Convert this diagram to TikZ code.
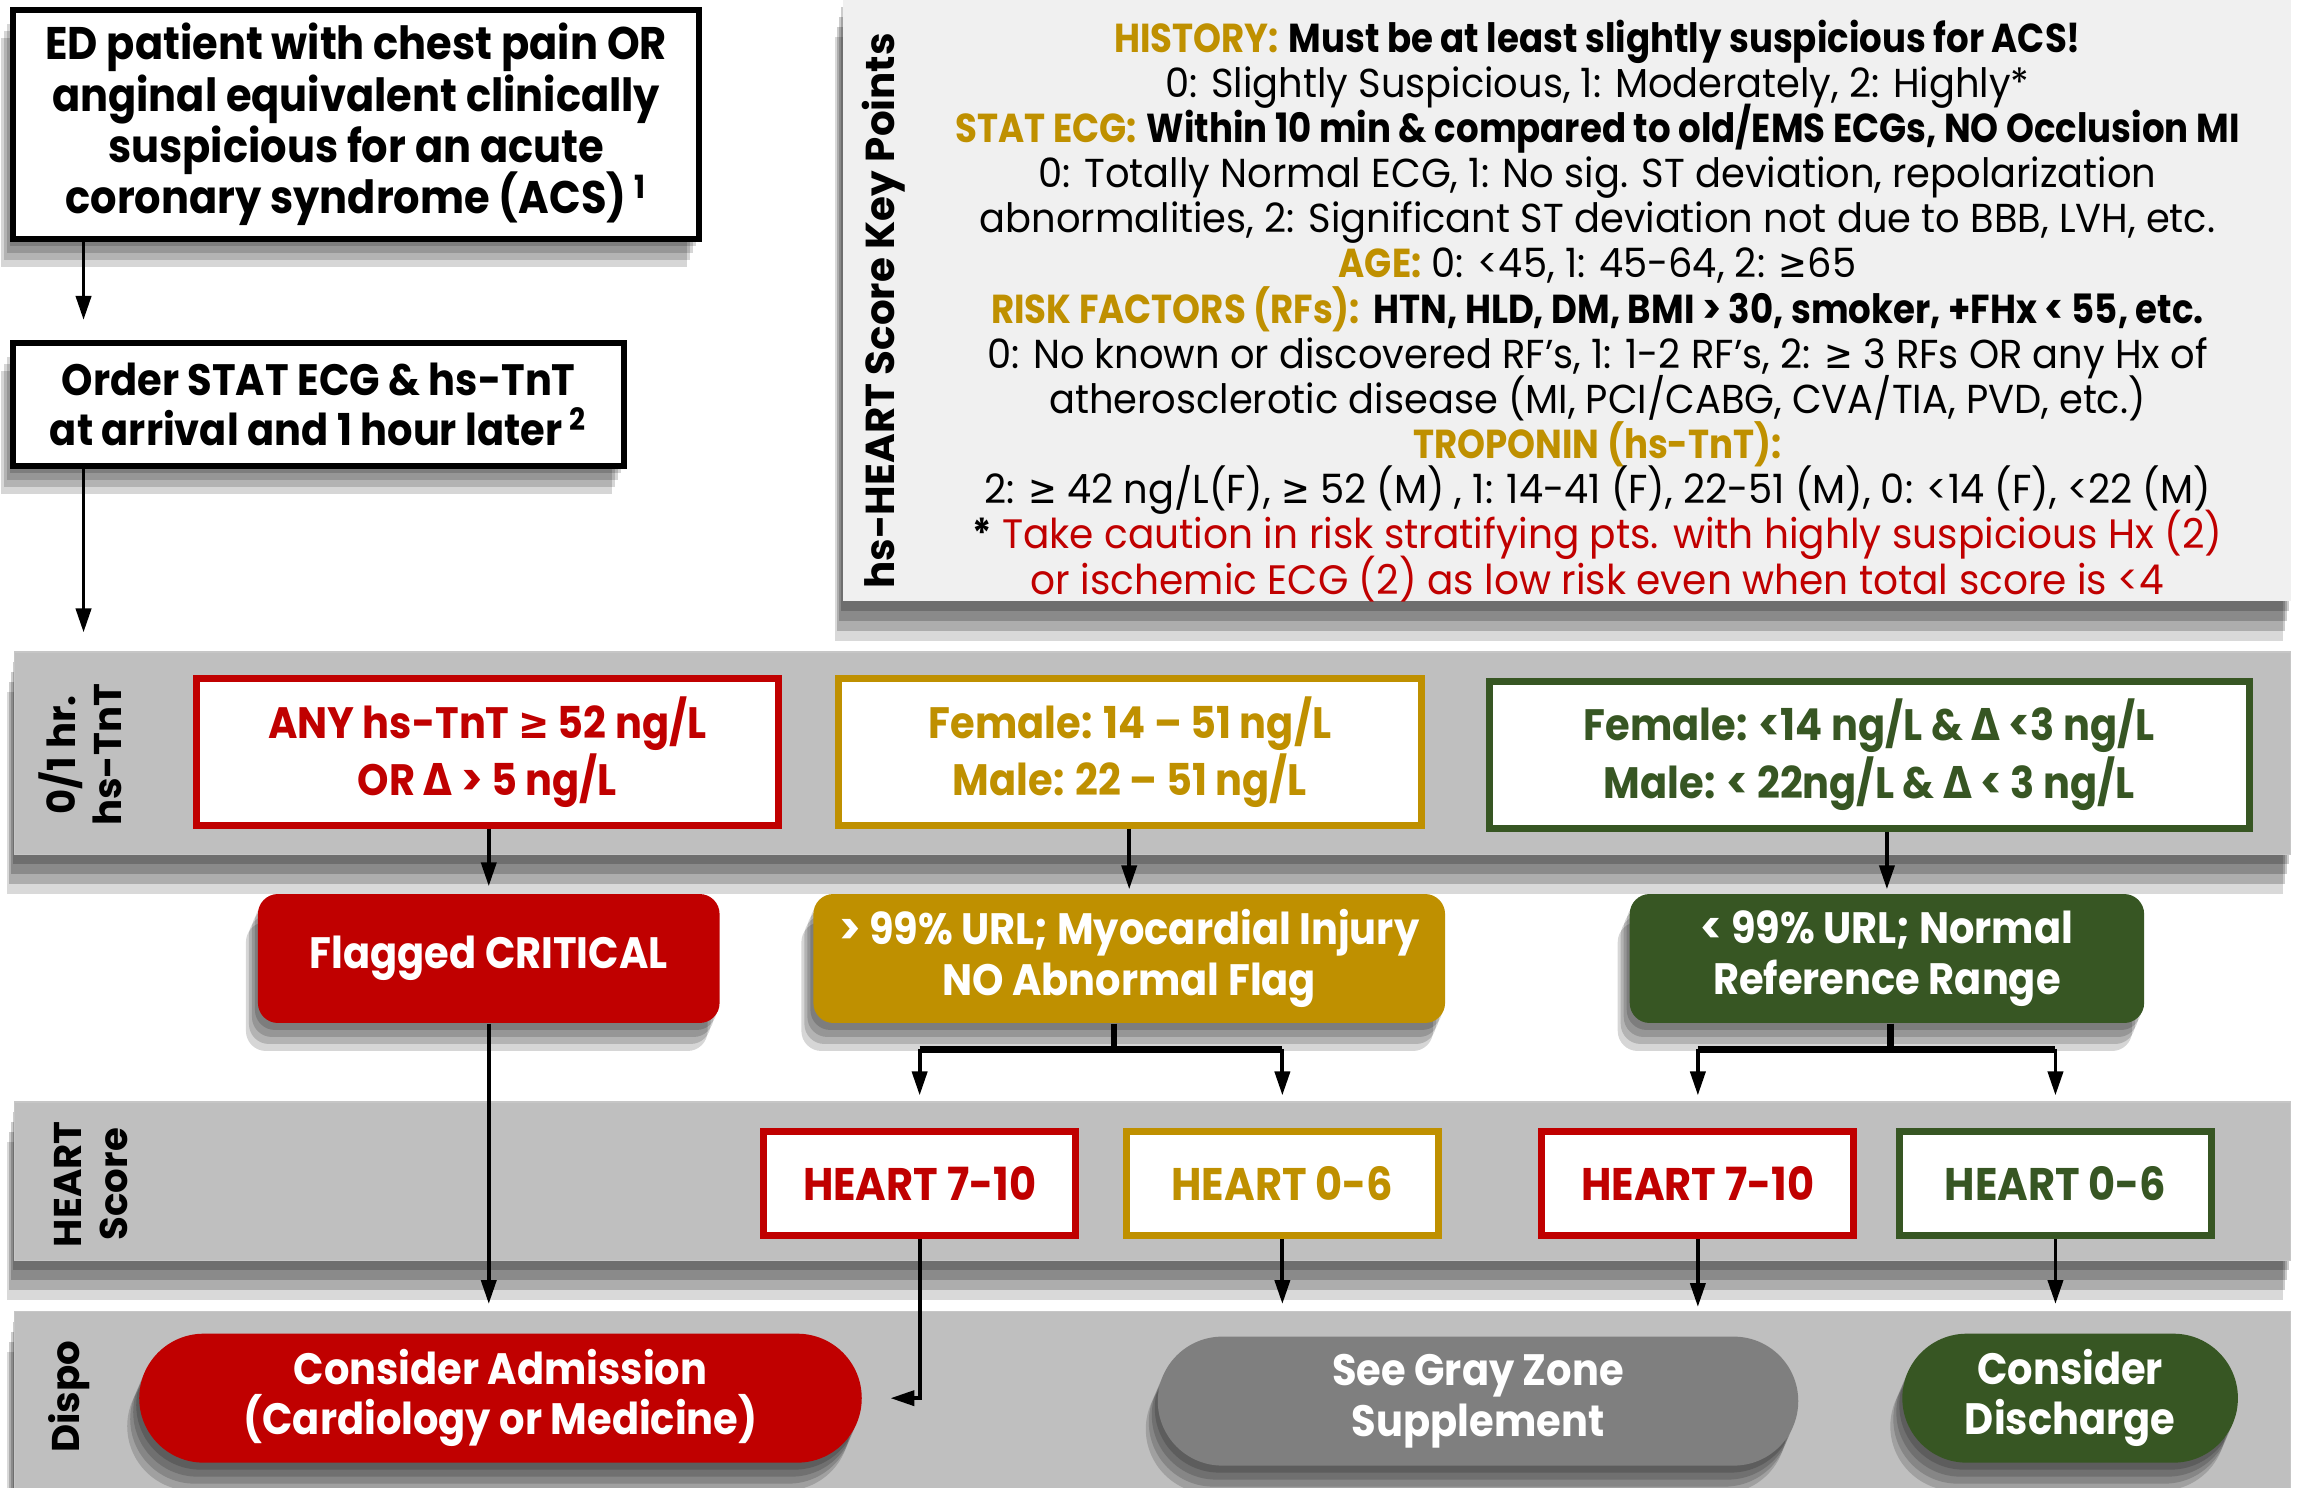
\documentclass[tikz,border=0pt]{standalone}
\usepackage{fontspec}
\setmainfont{Poppins}[FakeStretch=0.91]
\newfontfamily\keyfont{Poppins}[FakeStretch=0.95, BoldFeatures={FakeStretch=0.88}]
\newfontfamily\lanefont{Poppins}
\newfontfamily\symsans{DejaVu Sans}[FakeStretch=0.85]
\usetikzlibrary{arrows.meta,shadows,shapes.misc}
\definecolor{tntred}{HTML}{C00000}
\definecolor{tntgold}{HTML}{BF9000}
\definecolor{tntgreen}{HTML}{375623}
\definecolor{lanegray}{HTML}{BFBFBF}
\definecolor{panelgray}{HTML}{F0F0F0}
\definecolor{zonegray}{HTML}{7F7F7F}
\newcommand{\dpx}{0.14656mm}
\newcommand{\gesym}{{\symsans ≥}}
\newcommand{\dsym}{{\symsans Δ}}
\setlength{\lineskiplimit}{-\maxdimen}

\begin{document}
\begin{tikzpicture}[x=\dpx, y=-\dpx,
    every node/.style={font=\fontsize{12.5}{14.3}\selectfont\bfseries},
    shade/.style={
        drop shadow={shadow xshift=-0.3mm, shadow yshift=-0.7mm, fill=black, opacity=0.16},
        drop shadow={shadow xshift=-0.6mm, shadow yshift=-1.4mm, fill=black, opacity=0.16},
        drop shadow={shadow xshift=-0.9mm, shadow yshift=-2.1mm, fill=black, opacity=0.16},
        drop shadow={shadow xshift=-1.2mm, shadow yshift=-2.8mm, fill=black, opacity=0.16}},
    laneshade/.style={
        drop shadow={shadow xshift=-0.2mm, shadow yshift=-1mm, fill=black, opacity=0.2},
        drop shadow={shadow xshift=-0.4mm, shadow yshift=-2mm, fill=black, opacity=0.2},
        drop shadow={shadow xshift=-0.6mm, shadow yshift=-3mm, fill=black, opacity=0.2},
        drop shadow={shadow xshift=-0.8mm, shadow yshift=-4mm, fill=black, opacity=0.15}},
    frame/.style={draw=black, line width=1.7pt, fill=white, align=center, inner sep=0pt, shade},
    tntbox/.style={draw=#1, text=#1, line width=2pt, fill=white, align=center, inner sep=0pt,
        minimum height=100*\dpx, font=\fontsize{12.5}{16.3}\selectfont\bfseries},
    flagbox/.style={fill=#1, text=white, rounded corners=2mm, align=center, inner sep=0pt,
        minimum height=88*\dpx, shade},
    heartbox/.style={draw=#1, text=#1, line width=2pt, fill=white, inner sep=0pt,
        minimum width=213*\dpx, minimum height=71*\dpx, font=\fontsize{13}{15}\selectfont\bfseries},
    pill/.style={rounded rectangle, fill=#1, text=white, align=center, inner sep=0pt,
        minimum height=88*\dpx, shade},
    lane/.style={fill=lanegray, draw=gray!45, line width=0.4pt, minimum width=1553*\dpx, inner sep=0pt,
        laneshade},
    lanelabel/.style={rotate=90, align=center, font=\lanefont\fontsize{11}{13}\selectfont\bfseries},
    arr/.style={line width=1.1pt, -{Triangle[length=2.4mm, width=1.5mm]}},
    fork/.style={line width=1.8pt}]
    \fill[white] (0,0) rectangle (1568,1015);
    \useasboundingbox (0,0) rectangle (1568,1015);

    % Key points panel
    \node[fill=panelgray, minimum width=988*\dpx, minimum height=412*\dpx, inner sep=0pt, laneshade]
        (keypanel) at (1069,204) {};
    \node[lanelabel, font=\lanefont\fontsize{11.5}{13}\selectfont\bfseries] (keylabel) at (603,212)
        {hs-HEART Score Key Points};
    \node[font=\keyfont\fontsize{11.5}{12.85}\selectfont\mdseries, align=center] (keytext) at (1090,212) {%
        {\color{tntgold}\bfseries HISTORY:} {\bfseries Must be at least slightly suspicious for ACS!}\\
        0: Slightly Suspicious, 1: Moderately, 2: Highly*\\
        {\color{tntgold}\bfseries STAT ECG:} {\bfseries Within 10 min \& compared to old/EMS ECGs, NO Occlusion MI}\\
        0: Totally Normal ECG, 1: No sig. ST deviation, repolarization\\
        abnormalities, 2: Significant ST deviation not due to BBB, LVH, etc.\\
        {\color{tntgold}\bfseries AGE:} 0: <45, 1: 45-64, 2: \gesym65\\
        {\color{tntgold}\bfseries RISK FACTORS (RFs):} {\bfseries HTN, HLD, DM, BMI > 30, smoker, +FHx < 55, etc.}\\
        0: No known or discovered RF’s, 1: 1-2 RF’s, 2: \gesym\ 3 RFs OR any Hx of\\
        atherosclerotic disease (MI, PCI/CABG, CVA/TIA, PVD, etc.)\\
        {\color{tntgold}\bfseries TROPONIN (hs-TnT):}\\
        2: \gesym\ 42 ng/L(F), \gesym\ 52 (M) , 1: 14-41 (F), 22-51 (M), 0: <14 (F), <22 (M)\\
        {\fontsize{11.7}{12.85}\selectfont{\bfseries *} {\color{tntred}Take caution in risk stratifying pts. with highly suspicious Hx (2)}}\\
        {\fontsize{11.7}{12.85}\selectfont\color{tntred}or ischemic ECG (2) as low risk even when total score is <4}};

    % Entry boxes
    \node[frame, minimum width=468*\dpx, minimum height=156*\dpx, font=\fontsize{13}{14.6}\selectfont\bfseries]
        (ed) at (243,85)
        {ED patient with chest pain OR\\ anginal equivalent clinically\\ suspicious for an acute\\
         coronary syndrome (ACS)\,\textsuperscript{1}};
    \node[frame, minimum width=417*\dpx, minimum height=84*\dpx] (order) at (217.5,276)
        {Order STAT ECG \& hs-TnT\\ at arrival and 1 hour later\,\textsuperscript{2}};
    \coordinate (leftrail) at (57,0);

    % Lanes
    \node[lane, minimum height=138*\dpx] (lanetnt) at (786.5,514) {};
    \node[lane, minimum height=108*\dpx] (laneheart) at (786.5,806) {};
    \node[lane, minimum height=125*\dpx] (lanedispo) at (786.5,957.5) {};
    \node[lanelabel] (tntlabel) at (55,515) {0/1 hr.\\ hs-TnT};
    \node[lanelabel] (heartlabel) at (62,808) {HEART\\ Score};
    \node[lanelabel] (dispolabel) at (47,953) {Dispo};

    % 0/1 hr. hs-TnT
    \node[tntbox=tntred, minimum width=397*\dpx] (anytnt) at (332.5,513)
        {ANY hs-TnT \gesym\ 52 ng/L\\ OR \dsym\ > 5 ng/L};
    \node[tntbox=tntgold, minimum width=398*\dpx] (midtnt) at (771,513)
        {Female: 14 – 51 ng/L\\ Male: 22 – 51 ng/L};
    \node[tntbox=tntgreen, minimum width=519*\dpx] (lowtnt) at (1275.5,515)
        {Female: <14 ng/L \& \dsym\ <3 ng/L\\ Male: < 22ng/L \& \dsym\ < 3 ng/L};

    \node[flagbox=tntred, minimum width=315*\dpx] (critical) at (333.5,654) {Flagged CRITICAL};
    \node[flagbox=tntgold, minimum width=431*\dpx] (injury) at (770.5,654)
        {> 99\% URL; Myocardial Injury\\ NO Abnormal Flag};
    \node[flagbox=tntgreen, minimum width=351*\dpx] (normal) at (1287.5,654)
        {< 99\% URL; Normal\\ Reference Range};

    % HEART score
    \node[heartbox=tntred] (hrA) at (627.5,807.5) {HEART 7-10};
    \node[heartbox=tntgold] (hgA) at (875,807.5) {HEART 0-6};
    \node[heartbox=tntred] (hrB) at (1158.5,807.5) {HEART 7-10};
    \node[heartbox=tntgreen] (hgB) at (1402.5,807.5) {HEART 0-6};

    % Dispo
    \node[pill=tntred, minimum width=493*\dpx] (admit) at (341.5,954)
        {Consider Admission\\ (Cardiology or Medicine)};
    \node[pill=zonegray, minimum width=437*\dpx] (grayzone) at (1008.5,956)
        {See Gray Zone\\ Supplement};
    \node[pill=tntgreen, minimum width=229*\dpx] (discharge) at (1412.5,954)
        {Consider\\ Discharge};

    % Connectors
    \draw[arr, shorten >=2mm] (ed.south -| leftrail) -- (order.north -| leftrail);
    \draw[arr, shorten >=1.9mm] (order.south -| leftrail) -- (lanetnt.north -| leftrail);
    \draw[arr, shorten >=0.7mm] (critical.north |- anytnt.south) -- (critical.north);
    \draw[arr, shorten >=0.4mm] (injury.north |- midtnt.south) -- (injury.north);
    \draw[arr, shorten >=0.4mm] (normal.north |- lowtnt.south) -- (normal.north);
    \draw[arr, shorten >=0.7mm] (critical.south) -- (critical.south |- lanedispo.north);

    \coordinate (forkA) at (760,716);
    \coordinate (forkB) at (1290,716);
    \draw[fork] (injury.south -| forkA) -- (forkA);
    \draw[fork] (hrA.north |- forkA) -- (hgA.north |- forkA);
    \draw[arr, shorten >=0.6mm] (hrA.north |- forkA) -- (hrA.north |- laneheart.north);
    \draw[arr, shorten >=0.6mm] (hgA.north |- forkA) -- (hgA.north |- laneheart.north);
    \draw[fork] (normal.south -| forkB) -- (forkB);
    \draw[fork] (hrB.north |- forkB) -- (hgB.north |- forkB);
    \draw[arr, shorten >=0.6mm] (hrB.north |- forkB) -- (hrB.north |- laneheart.north);
    \draw[arr, shorten >=0.6mm] (hgB.north |- forkB) -- (hgB.north |- laneheart.north);

    \draw[arr, shorten >=2.8mm] (hrA.south) |- (admit.east);
    \draw[arr, shorten >=0.7mm] (hgA.south) -- (hgA.south |- lanedispo.north);
    \draw[arr, shorten >=0.4mm] (hrB.south) -- (hrB.south |- lanedispo.north);
    \draw[arr, shorten >=0.7mm] (hgB.south) -- (hgB.south |- lanedispo.north);
\end{tikzpicture}
\end{document}
